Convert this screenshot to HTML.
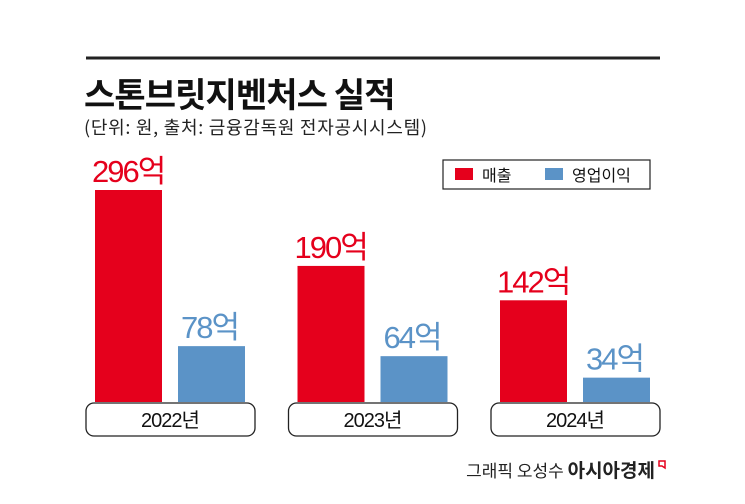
<!DOCTYPE html>
<html><head><meta charset="utf-8"><style>
body{margin:0;background:#fff;width:745px;height:504px;overflow:hidden;font-family:"Liberation Sans","Noto Sans CJK KR",sans-serif}
svg{display:block}
</style></head><body>
<svg width="745" height="504">
<line x1="86" y1="58" x2="660" y2="58" stroke="#222" stroke-width="3"/>
<text x="84" y="107" font-size="34" font-weight="bold" fill="#111" font-family="Noto Sans CJK KR,sans-serif" letter-spacing="-0.5" textLength="311">스톤브릿지벤처스 실적</text>
<text x="84" y="134" font-size="18" fill="#222" font-family="Noto Sans CJK KR,sans-serif" textLength="343">(단위: 원, 출처: 금융감독원 전자공시시스템)</text>
<g>
<rect x="443" y="160" width="207" height="29" fill="#fff" stroke="#222" stroke-width="1.2"/>
<rect x="455" y="168" width="18" height="12" fill="#e5001c"/>
<text x="482" y="181" font-size="16" fill="#111" font-family="Noto Sans CJK KR,sans-serif">매출</text>
<rect x="545" y="168" width="18" height="12" fill="#5b93c7"/>
<text x="572" y="181" font-size="16" fill="#111" font-family="Noto Sans CJK KR,sans-serif">영업이익</text>
</g>
<g id="bars"></g>
<text x="655" y="477" text-anchor="end" font-size="17" fill="#222" font-family="Noto Sans CJK KR,sans-serif">그래픽 오성수 <tspan font-weight="bold" font-size="19">아시아경제</tspan></text>
<path d="M659 461h6v7l-3-2h-3z" fill="none" stroke="#e5001c" stroke-width="1.5"/>
</svg>
<script>
const years=["2022년","2023년","2024년"];
const sales=[296,190,142];
const profit=[78,64,34];
const salesLabels=["296억","190억","142억"];
const profitLabels=["78억","64억","34억"];
const base=402, scale=212/296;
const y=v=>base-v*scale;
const g=document.getElementById('bars');
const NS="http://www.w3.org/2000/svg";
function mk(t,a){const e=document.createElementNS(NS,t);for(const k in a)e.setAttribute(k,a[k]);g.appendChild(e);return e;}
years.forEach((yr,i)=>{
  const x0=95+i*202.5;
  const r=mk('rect',{x:x0,y:y(sales[i]),width:67,height:sales[i]*scale,fill:'#e5001c'});
  
  
  const b=mk('rect',{x:x0+83,y:y(profit[i]),width:67,height:profit[i]*scale,fill:'#5b93c7'});
  
  
  const t1=mk('text',{x:x0-3,y:y(sales[i])-8,'font-size':31,fill:'#e5001c','letter-spacing':-2,'font-family':'Liberation Sans,Noto Sans CJK KR,sans-serif'});
  t1.textContent=salesLabels[i];
  
  
  const t2=mk('text',{x:x0+86,y:y(profit[i])-8,'font-size':31,fill:'#5b93c7','letter-spacing':-2,'font-family':'Liberation Sans,Noto Sans CJK KR,sans-serif'});
  t2.textContent=profitLabels[i];
  
  
  const p=mk('rect',{x:x0-9,y:403,width:169,height:33,rx:8,fill:'#fff',stroke:'#222','stroke-width':1.3});
  
  
  const yt=mk('text',{x:x0+75,y:427,'text-anchor':'middle','font-size':20,fill:'#111','letter-spacing':-1,'font-family':'Liberation Sans,Noto Sans CJK KR,sans-serif'});
  yt.textContent=yr;
  
  
});
</script>
</body></html>
